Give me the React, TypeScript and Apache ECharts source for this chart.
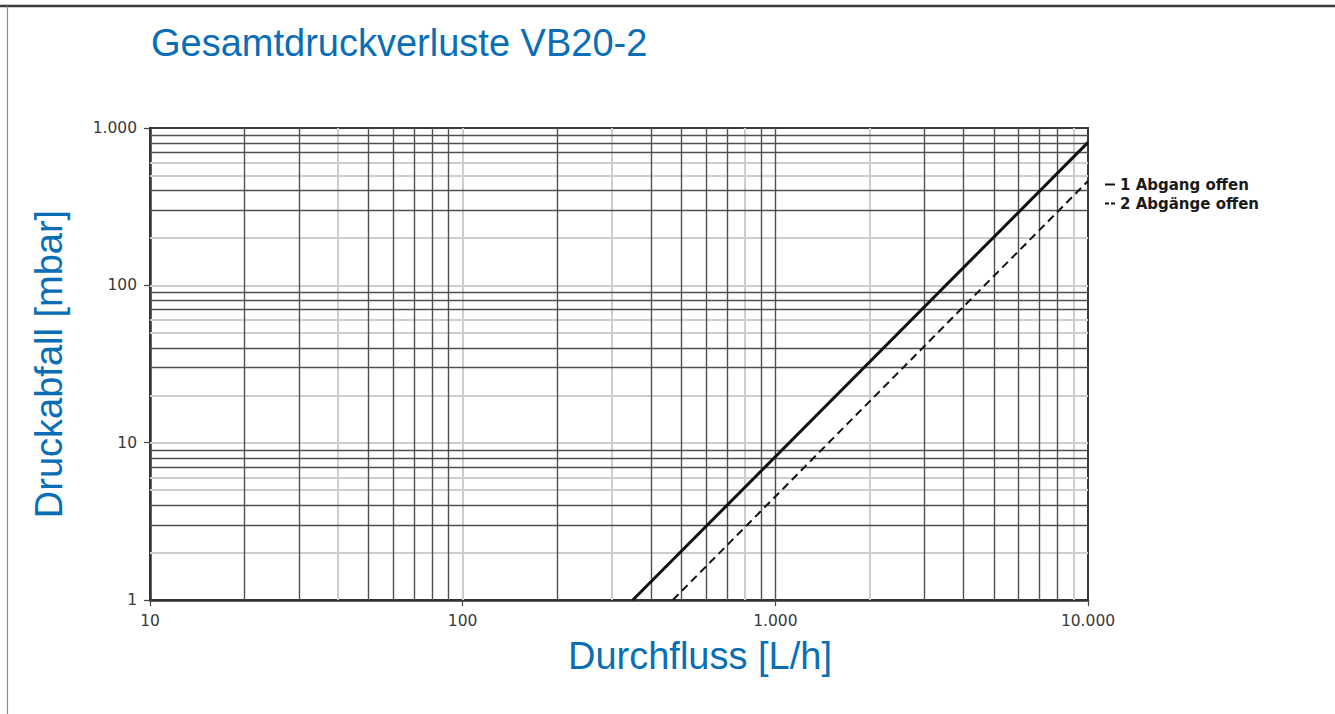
import React, { useEffect, useRef } from "react";
import * as echarts from "echarts";

// Series: [flow L/h, pressure drop mbar]
const oneOutlet: [number, number][] = [
  [350, 1],
  [10000, 810],
];
const twoOutlets: [number, number][] = [
  [470, 1],
  [10000, 460],
];
const seriesNames = ["1 Abgang offen", "2 Abgänge offen"];

// Grid lines of the log paper (dark and light ones)
const xDarkLines = [20, 30, 50, 60, 70, 80, 90, 200, 400, 500, 600, 700, 900, 1000, 3000, 4000, 5000, 6000, 7000, 8000];
const xLightLines = [40, 100, 300, 800, 2000, 9000];
const yDarkLines = [3, 4, 7, 8, 9, 30, 40, 70, 80, 90, 300, 400, 700, 800, 900];
const yLightLines = [2, 5, 6, 10, 20, 50, 60, 100, 200, 500, 600];

const titleText = "Gesamtdruckverluste VB20-2";
const xName = "Durchfluss [L/h]";
const yName = "Druckabfall [mbar]";

const BLUE = "#0a6eb6";
const SANS = "'Liberation Sans', Arial, sans-serif";
const fmt = (v: number) => String(Math.round(v)).replace(/\B(?=(\d{3})+(?!\d))/g, ".");

export default function App() {
  const ref = useRef<HTMLDivElement>(null);
  useEffect(() => {
    if (!ref.current) return;
    const chart = echarts.init(ref.current, undefined, { renderer: "svg" });
    const light = { color: "#cdcdcd", width: 2, type: "solid" };
    const dark = { color: "#505050", width: 1.4, type: "solid" };
    const gridLines = [
      ...xLightLines.map((v) => ({ xAxis: v, lineStyle: light })),
      ...yLightLines.map((v) => ({ yAxis: v, lineStyle: light })),
      ...xDarkLines.map((v) => ({ xAxis: v, lineStyle: dark })),
      ...yDarkLines.map((v) => ({ yAxis: v, lineStyle: dark })),
    ];
    const tickLabel = { formatter: fmt, color: "#3a3a3a", fontSize: 15.5, margin: 13, fontFamily: "'DejaVu Sans', sans-serif" };
    chart.setOption({
      animation: false,
      backgroundColor: "#ffffff",
      textStyle: { fontFamily: SANS },
      title: {
        text: titleText,
        left: 146,
        top: 19,
        textStyle: { color: BLUE, fontSize: 38, fontWeight: "normal", fontFamily: SANS },
      },
      graphic: [
        { type: "line", shape: { x1: 0, y1: 6, x2: 1335, y2: 6 }, style: { stroke: "#3a3a3a", lineWidth: 2.5 } },
        { type: "line", shape: { x1: 7.5, y1: 6, x2: 7.5, y2: 714 }, style: { stroke: "#8a8a8a", lineWidth: 1.2 } },
      ],
      legend: {
        data: [
          { name: seriesNames[0], icon: "path://M0,0L10,0L10,2L0,2Z" },
          { name: seriesNames[1], icon: "path://M0,0L4,0L4,2L0,2ZM6,0L10,0L10,2L6,2Z" },
        ],
        orient: "vertical",
        left: 1100,
        top: 172,
        itemWidth: 10,
        itemHeight: 2,
        itemGap: 4,
        selectedMode: false,
        textStyle: {
          fontSize: 15,
          fontWeight: "bold",
          color: "#1a1a1a",
          fontFamily: "'DejaVu Sans', sans-serif",
        },
      },
      grid: {
        left: 150,
        right: 247,
        top: 128,
        bottom: 114,
        show: true,
        borderColor: "#3a3a3a",
        borderWidth: 2,
      },
      xAxis: {
        type: "log",
        logBase: 10,
        min: 10,
        max: 10000,
        name: xName,
        nameLocation: "middle",
        nameGap: 37,
        nameTextStyle: { color: BLUE, fontSize: 38, fontFamily: SANS, padding: [0, 0, 0, 162] },
        axisLine: { show: true, lineStyle: { color: "#333", width: 2.5 } },
        axisTick: { show: true, length: 6, lineStyle: { color: "#444", width: 1.2 } },
        axisLabel: tickLabel,
        splitLine: { show: false },
      },
      yAxis: {
        type: "log",
        logBase: 10,
        min: 1,
        max: 1000,
        name: yName,
        nameLocation: "middle",
        nameGap: 82,
        nameTextStyle: { color: BLUE, fontSize: 38, fontFamily: SANS },
        axisLine: { show: true, lineStyle: { color: "#333", width: 2.5 } },
        axisTick: { show: true, length: 6, lineStyle: { color: "#444", width: 1.2 } },
        axisLabel: tickLabel,
        splitLine: { show: false },
      },
      series: [
        {
          name: "grid",
          type: "line",
          data: [[10, 1]],
          showSymbol: false,
          symbol: "none",
          silent: true,
          z: 1,
          lineStyle: { width: 0 },
          markLine: {
            silent: true,
            symbol: ["none", "none"],
            label: { show: false },
            emphasis: { disabled: true },
            animation: false,
            data: gridLines,
          },
        },
        {
          name: seriesNames[0],
          type: "line",
          data: oneOutlet,
          showSymbol: false,
          symbol: "none",
          color: "#111111",
          z: 5,
          lineStyle: { color: "#111111", width: 3 },
        },
        {
          name: seriesNames[1],
          type: "line",
          data: twoOutlets,
          showSymbol: false,
          symbol: "none",
          color: "#111111",
          z: 5,
          lineStyle: { color: "#111111", width: 2, type: [8, 5] },
        },
      ],
    });
    return () => chart.dispose();
  }, []);
  return (
    <div
      ref={ref}
      style={{ position: "absolute", left: 0, top: 0, width: 1335, height: 714, background: "#fff" }}
    />
  );
}
